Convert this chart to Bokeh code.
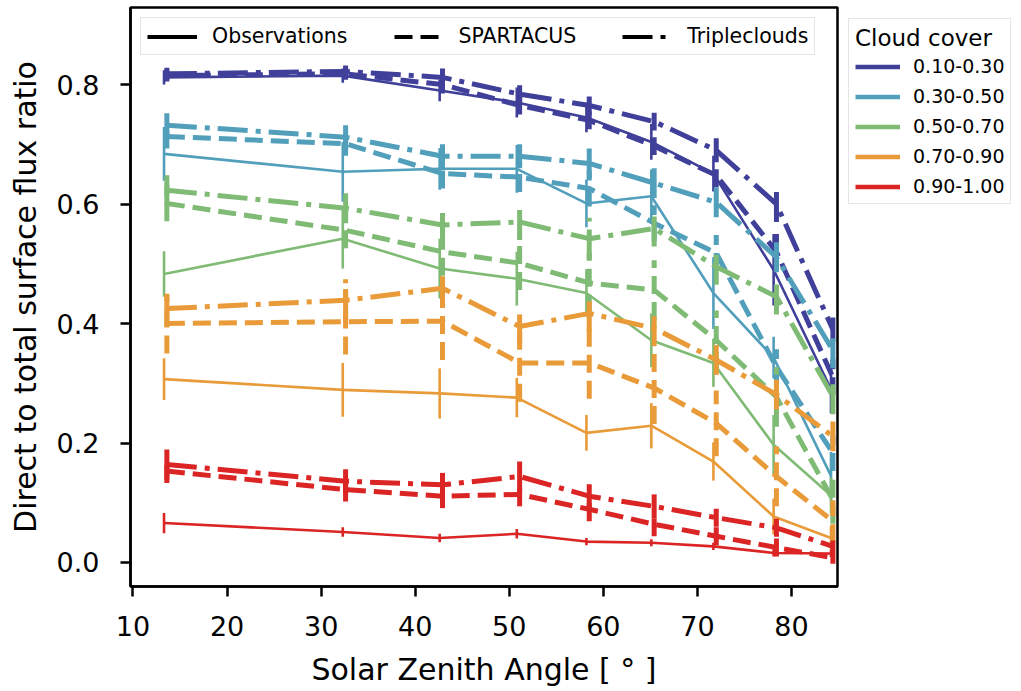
import numpy as np
from bokeh.plotting import figure
from bokeh.models import (Range1d, FixedTicker, PrintfTickFormatter, Legend,
                          LegendItem, ColumnDataSource)
from bokeh.embed import file_html
from bokeh.resources import INLINE

# ---------------- data ----------------
sza_obs = [13.3, 32.3, 42.6, 50.8, 58.2, 65.1, 71.7, 78.1, 84.2]
sza_model = [13.6, 32.6, 42.9, 51.1, 58.5, 65.4, 72.0, 78.4, 84.4]

cover_labels = ["0.10-0.30", "0.30-0.50", "0.50-0.70", "0.70-0.90", "0.90-1.00"]
cover_colors = ["#40409a", "#519fbb", "#7fbb74", "#e89b38", "#db2424"]

obs_1 = [0.812, 0.815, 0.790, 0.770, 0.745, 0.704, 0.651, 0.490, 0.290]
obs_err_1 = [0.012, 0.012, 0.018, 0.025, 0.025, 0.030, 0.030, 0.060, 0.040]
spartacus_1 = [0.815, 0.818, 0.800, 0.765, 0.740, 0.697, 0.648, 0.520, 0.310]
spartacus_err_1 = [0.010, 0.010, 0.015, 0.015, 0.015, 0.015, 0.020, 0.030, 0.030]
triple_1 = [0.818, 0.822, 0.812, 0.784, 0.765, 0.738, 0.690, 0.600, 0.390]
triple_err_1 = [0.010, 0.010, 0.015, 0.015, 0.015, 0.015, 0.020, 0.030, 0.020]

obs_2 = [0.684, 0.654, 0.659, 0.659, 0.601, 0.613, 0.451, 0.343, 0.145]
obs_err_2 = [0.045, 0.050, 0.035, 0.040, 0.040, 0.045, 0.060, 0.035, 0.040]
spartacus_2 = [0.713, 0.701, 0.651, 0.645, 0.626, 0.568, 0.518, 0.327, 0.183]
spartacus_err_2 = [0.020, 0.020, 0.025, 0.025, 0.030, 0.030, 0.030, 0.030, 0.030]
triple_2 = [0.732, 0.712, 0.680, 0.680, 0.668, 0.635, 0.603, 0.511, 0.355]
triple_err_2 = [0.020, 0.020, 0.020, 0.020, 0.025, 0.025, 0.025, 0.025, 0.030]

obs_3 = [0.483, 0.542, 0.492, 0.475, 0.451, 0.372, 0.334, 0.197, 0.112]
obs_err_3 = [0.038, 0.050, 0.050, 0.045, 0.040, 0.045, 0.040, 0.050, 0.030]
spartacus_3 = [0.601, 0.556, 0.520, 0.501, 0.468, 0.456, 0.372, 0.277, 0.105]
spartacus_err_3 = [0.030, 0.030, 0.040, 0.045, 0.050, 0.050, 0.050, 0.050, 0.040]
triple_3 = [0.623, 0.593, 0.565, 0.570, 0.542, 0.559, 0.495, 0.445, 0.278]
triple_err_3 = [0.025, 0.025, 0.030, 0.030, 0.035, 0.030, 0.030, 0.030, 0.030]

obs_4 = [0.307, 0.289, 0.283, 0.276, 0.217, 0.229, 0.169, 0.077, 0.041]
obs_err_4 = [0.035, 0.045, 0.042, 0.033, 0.030, 0.038, 0.032, 0.030, 0.020]
spartacus_4 = [0.400, 0.403, 0.404, 0.334, 0.334, 0.292, 0.233, 0.144, 0.069]
spartacus_err_4 = [0.050, 0.055, 0.065, 0.065, 0.060, 0.060, 0.055, 0.050, 0.035]
triple_4 = [0.425, 0.439, 0.459, 0.395, 0.417, 0.392, 0.339, 0.281, 0.211]
triple_err_4 = [0.030, 0.035, 0.030, 0.030, 0.030, 0.030, 0.025, 0.025, 0.025]

obs_5 = [0.066, 0.051, 0.041, 0.048, 0.035, 0.033, 0.027, 0.016, 0.015]
obs_err_5 = [0.017, 0.008, 0.007, 0.008, 0.006, 0.006, 0.006, 0.006, 0.006]
spartacus_5 = [0.153, 0.122, 0.111, 0.114, 0.089, 0.064, 0.044, 0.025, 0.008]
spartacus_err_5 = [0.020, 0.020, 0.020, 0.020, 0.020, 0.020, 0.015, 0.015, 0.010]
triple_5 = [0.164, 0.136, 0.130, 0.144, 0.111, 0.094, 0.075, 0.058, 0.027]
triple_err_5 = [0.025, 0.020, 0.020, 0.025, 0.020, 0.020, 0.015, 0.015, 0.010]

x_ticks = [10, 20, 30, 40, 50, 60, 70, 80]
y_ticks = [0.0, 0.2, 0.4, 0.6, 0.8]

series = [
    (obs_1, obs_err_1, spartacus_1, spartacus_err_1, triple_1, triple_err_1),
    (obs_2, obs_err_2, spartacus_2, spartacus_err_2, triple_2, triple_err_2),
    (obs_3, obs_err_3, spartacus_3, spartacus_err_3, triple_3, triple_err_3),
    (obs_4, obs_err_4, spartacus_4, spartacus_err_4, triple_4, triple_err_4),
    (obs_5, obs_err_5, spartacus_5, spartacus_err_5, triple_5, triple_err_5),
]

# ---------------- style ----------------
FONT = "DejaVu Sans"
DASHED = "18 8"
DASHDOT = "30 8 5 8"
OBS_W = 2.6
MOD_W = 5.0

p = figure(frame_width=707, frame_height=579, output_backend="svg",
           toolbar_location=None,
           x_range=Range1d(9.735, 84.89), y_range=Range1d(-0.0402, 0.929),
           min_border_left=130, min_border_right=184, min_border_top=7,
           min_border_bottom=105)
p.background_fill_color = "white"
p.border_fill_color = "white"
p.outline_line_color = "black"
p.outline_line_width = 2.5
p.outline_line_alpha = 1.0
p.xgrid.visible = False
p.ygrid.visible = False

p.xaxis.ticker = FixedTicker(ticks=x_ticks)
p.yaxis.ticker = FixedTicker(ticks=y_ticks)
p.yaxis.formatter = PrintfTickFormatter(format="%.1f")
p.xaxis.axis_label = "Solar Zenith Angle [ ° ]"
p.yaxis.axis_label = "Direct to total surface flux ratio"
for ax in (p.xaxis, p.yaxis):
    ax.axis_line_color = "black"
    ax.axis_line_width = 2.5
    ax.major_tick_line_color = "black"
    ax.major_tick_line_width = 2.5
    ax.major_tick_out = 10
    ax.major_tick_in = 0
    ax.minor_tick_line_color = None
    ax.major_label_text_font = FONT
    ax.major_label_text_font_size = "27px"
    ax.major_label_text_color = "black"
    ax.axis_label_text_font = FONT
    ax.axis_label_text_font_size = "30px"
    ax.axis_label_text_font_style = "normal"
    ax.axis_label_text_color = "black"
p.xaxis.major_label_standoff = 19
p.xaxis.axis_label_standoff = 13
p.yaxis.major_label_standoff = 21
p.yaxis.axis_label_standoff = 11


def draw(xs, ys, es, color, width, dash):
    src = ColumnDataSource(dict(
        x=xs, y=ys,
        lo=[y - e for y, e in zip(ys, es)],
        hi=[y + e for y, e in zip(ys, es)]))
    p.line("x", "y", source=src, line_color=color, line_width=width,
           line_dash=dash, line_join="round")
    p.segment(x0="x", y0="lo", x1="x", y1="hi", source=src, line_color=color,
              line_width=width, line_dash=dash)


for (o, oe, s, se, t, te), col in zip(series, cover_colors):
    draw(sza_obs, o, oe, col, OBS_W, "solid")
    draw(sza_model, s, se, col, MOD_W, DASHED)
    draw(sza_model, t, te, col, MOD_W, DASHDOT)

# ---------------- legends ----------------
# legend-only renderers: their points lie outside the visible ranges
off_x = [-100.0, -99.0]
off_y = [-100.0, -100.0]

style_items = []
for name, dash in [("Observations", "solid"), ("SPARTACUS", DASHED),
                   ("Tripleclouds", DASHDOT)]:
    r = p.line(x=off_x, y=off_y, line_color="black", line_width=4.2,
               line_dash=dash)
    style_items.append(LegendItem(label=name, renderers=[r]))

leg_top = Legend(items=style_items, orientation="horizontal", location="top_left")
leg_top.label_text_font = FONT
leg_top.label_text_font_size = "20.5px"
leg_top.label_text_color = "black"
leg_top.glyph_width = 50
leg_top.glyph_height = 21
leg_top.label_height = 21
leg_top.label_standoff = 15
leg_top.spacing = 46
leg_top.padding = 6
leg_top.margin = 10
leg_top.border_line_color = "#cccccc"
leg_top.border_line_width = 1.2
leg_top.background_fill_alpha = 0.85
p.add_layout(leg_top)

cover_items = []
for lab, col in zip(cover_labels, cover_colors):
    r = p.line(x=off_x, y=off_y, line_color=col, line_width=4.5)
    cover_items.append(LegendItem(label=lab, renderers=[r]))

leg_right = Legend(items=cover_items, location="top_left", title="Cloud cover")
leg_right.title_text_font = FONT
leg_right.title_text_font_size = "23px"
leg_right.title_text_font_style = "normal"
leg_right.title_text_color = "black"
leg_right.title_standoff = 4
leg_right.label_text_font = FONT
leg_right.label_text_font_size = "19px"
leg_right.label_text_color = "black"
leg_right.glyph_width = 45
leg_right.glyph_height = 21
leg_right.label_height = 21
leg_right.label_standoff = 13
leg_right.spacing = 8
leg_right.padding = 6
leg_right.margin = 11
leg_right.border_line_color = "#cccccc"
leg_right.border_line_width = 1.2
p.add_layout(leg_right, "right")

open("out.html", "w").write(file_html(p, INLINE))
